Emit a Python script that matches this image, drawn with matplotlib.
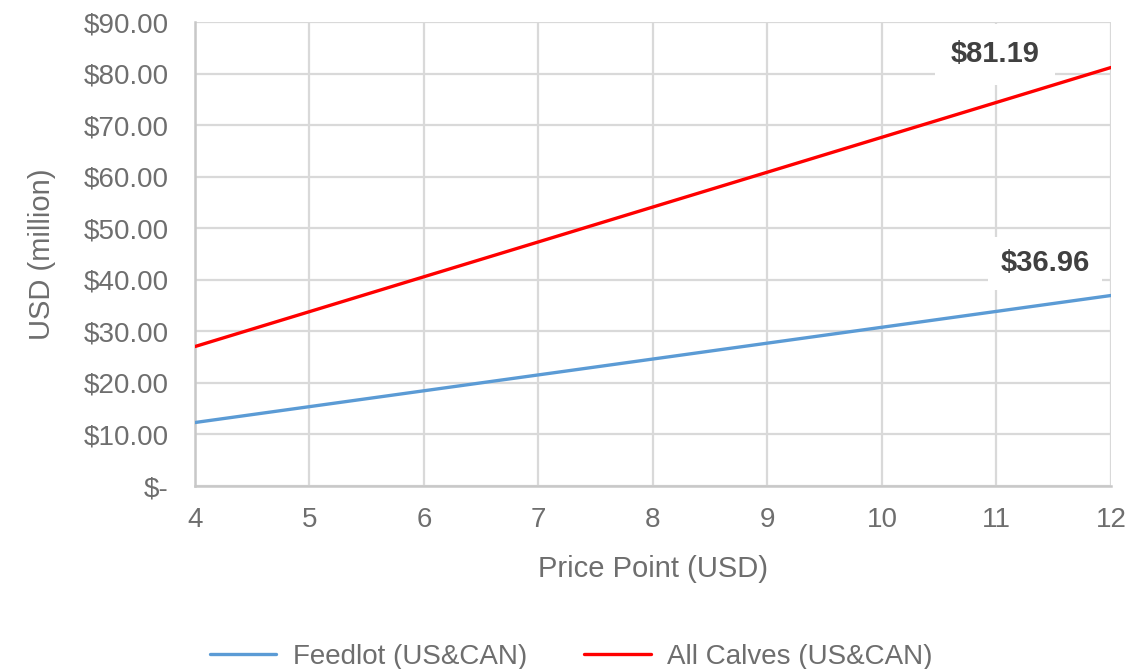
import matplotlib
matplotlib.use("Agg")
import matplotlib.pyplot as plt
from matplotlib.ticker import FuncFormatter

price_points = [4, 5, 6, 7, 8, 9, 10, 11, 12]
feedlot = [12.32, 15.40, 18.48, 21.56, 24.64, 27.72, 30.80, 33.88, 36.96]
all_calves = [27.06, 33.83, 40.60, 47.36, 54.13, 60.89, 67.66, 74.42, 81.19]
series_names = ["Feedlot (US&CAN)", "All Calves (US&CAN)"]

plt.rcParams['font.family'] = ['Liberation Sans', 'DejaVu Sans']

fig = plt.figure(figsize=(11.47, 6.69), dpi=100)
ax = fig.add_axes([0.170, 0.2735, 0.7986, 0.6935])

ax.plot(price_points, feedlot, color="#5b9bd5", lw=2.4, label=series_names[0], solid_capstyle='round', zorder=5)
ax.plot(price_points, all_calves, color="#ff0000", lw=2.4, label=series_names[1], solid_capstyle='round', zorder=5)

ax.set_xlim(4, 12)
ax.set_ylim(0, 90)
ax.set_xticks(range(4, 13))
ax.set_yticks(range(0, 91, 10))

def fmt(v, pos):
    return "$-" if v == 0 else f"${v:.2f}"
ax.yaxis.set_major_formatter(FuncFormatter(fmt))

ax.grid(True, color="#d9d9d9", lw=1.6, zorder=0)
for s in ["top", "right"]:
    ax.spines[s].set_visible(False)
for s in ["left", "bottom"]:
    ax.spines[s].set_color("#c8c8c8")
    ax.spines[s].set_linewidth(1.8)
ax.tick_params(length=0, labelsize=20, labelcolor="#6e6e6e")
ax.tick_params(axis='x', pad=15)
ax.tick_params(axis='y', pad=19)

ax.set_xlabel("Price Point (USD)", fontsize=21, color="#6e6e6e", labelpad=16)
ax.set_ylabel("USD (million)", fontsize=21, color="#6e6e6e", labelpad=20)

bbox1 = dict(boxstyle="square,pad=0.55", fc="white", ec="none")
bbox2 = dict(boxstyle="square,pad=0.42", fc="white", ec="none")
ax.annotate(f"${all_calves[-1]:.2f}", xy=(price_points[-1], all_calves[-1]),
            xytext=(-116, 13), textcoords="offset pixels", fontsize=21, fontweight="bold",
            color="#404040", ha="center", va="center", bbox=bbox1, zorder=4)
ax.annotate(f"${feedlot[-1]:.2f}", xy=(price_points[-1], feedlot[-1]),
            xytext=(-66, 32), textcoords="offset pixels", fontsize=21, fontweight="bold",
            color="#404040", ha="center", va="center", bbox=bbox2, zorder=4)

fig.legend(loc="lower center", bbox_to_anchor=(0.498, -0.039), ncol=2, frameon=False,
           fontsize=20, labelcolor="#6e6e6e", handlelength=2.4, columnspacing=2.05,
           handletextpad=0.6)

fig.savefig("out.png", dpi=100)
